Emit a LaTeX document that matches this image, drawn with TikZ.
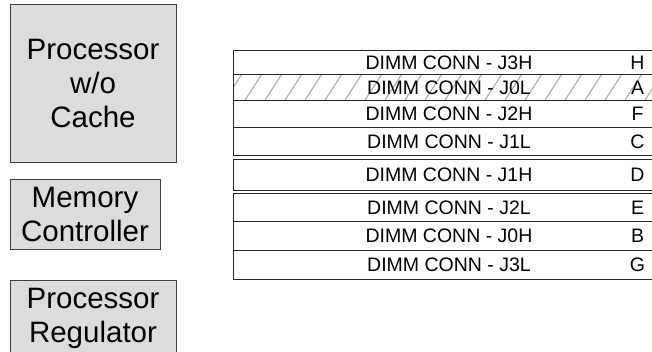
\documentclass[tikz,border=0pt]{standalone}
\usepackage{fontspec}
\setmainfont{Liberation Sans}
\definecolor{boxgray}{HTML}{DCDCDC}
\definecolor{hatchgray}{HTML}{ABABAB}
\begin{document}
\begin{tikzpicture}[x=1pt,y=-1pt,
  lbox/.style={draw=black!75, fill=boxgray, line width=1pt, align=center,
    font=\fontsize{29.5}{34}\selectfont, inner sep=0pt},
  rowbox/.style={draw=black!85, line width=1pt, minimum width=420pt, inner sep=0pt, anchor=north west},
  rowtxt/.style={font=\fontsize{19.5}{22}\selectfont, inner sep=0pt},
  hatch/.style={draw=hatchgray, line width=1.1pt},
]
\useasboundingbox (0,0) rectangle (652,351);
% left boxes
\node[lbox, minimum width=166pt, minimum height=158pt] (proc) at (93,83) {Processor\\w/o\\Cache};
\node[lbox, minimum width=150pt, minimum height=70pt] (mc) at (85,214) {Memory\\Controller};
\node[lbox, minimum width=166pt, minimum height=76pt] (reg) at (93,318) {Processor\\Regulator};
% hatch in row A (drawn first)
\begin{scope}
  \clip (233,74) rectangle (653,100);
  \foreach \i in {0,...,22}
    \draw[hatch] (225+\i*20,100) -- ++(17,-26);
\end{scope}
% rows
\foreach \n/\t/\h/\lab/\ltr in {H/50/24/J3H/H, A/74/26/J0L/A, F/100/27/J2H/F, C/127/28/J1L/C, D/159/31/J1H/D, E/193/28/J2L/E, B/221/29/J0H/B, G/250/29/J3L/G}{
  \node[rowbox, minimum height=\h pt] (r\n) at (233,\t) {};
  \node[rowtxt] (t\n) at ([xshift=5.5pt]r\n.center) {DIMM CONN - \lab};
  \node[rowtxt] (l\n) at ([xshift=194pt]r\n.center) {\ltr};
}
\end{tikzpicture}
\end{document}
